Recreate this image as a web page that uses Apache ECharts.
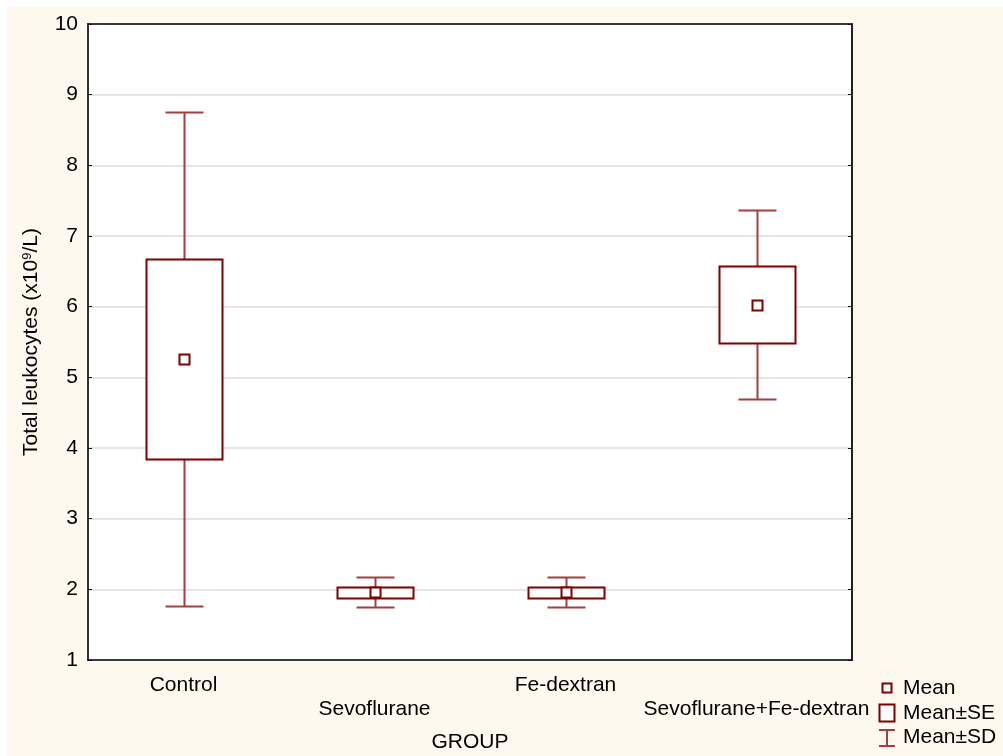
<!DOCTYPE html>
<html>
<head>
<meta charset="utf-8">
<title>Total leukocytes by group</title>
<script src="https://cdn.jsdelivr.net/npm/echarts@6/dist/echarts.min.js"></script>
<style>
  html, body { margin: 0; padding: 0; background: #ffffff; }
  #bg { position: absolute; left: 7px; top: 6px; right: 0; bottom: 0; background: #fdf9ef; }
  #chart { position: absolute; left: 0; top: 0; width: 1003px; height: 756px; }
</style>
</head>
<body>
<div id="bg"></div>
<div id="chart"></div>
<script>
// Groups and their summary statistics (x10^9/L)
const groups = ['Control', 'Sevoflurane', 'Fe-dextran', 'Sevoflurane+Fe-dextran'];
const means = [5.26, 1.96, 1.96, 6.03];
const stdErrors = [1.42, 0.08, 0.08, 0.54];
const stdDevs = [3.50, 0.21, 0.21, 1.34];
const yTicks = [1, 2, 3, 4, 5, 6, 7, 8, 9, 10];

const BOX = '#800000';
const WHISK = '#a04040';
const FONT = '"Liberation Sans", Arial, sans-serif';
const FS = 21;

const rows = groups.map((g, i) => [i, means[i], stdErrors[i], stdDevs[i]]);

function renderMeanBox(params, api) {
  const idx = api.value(0);
  const m = api.value(1), se = api.value(2), sd = api.value(3);
  const band = api.size([1, 0])[0];
  const cx = Math.round(api.coord([idx, m])[0]) + 0.5;
  const y = v => Math.round(api.coord([idx, v])[1]) + 0.5;
  const yM = y(m), ySeHi = y(m + se), ySeLo = y(m - se), ySdHi = y(m + sd), ySdLo = y(m - sd);
  const boxW = Math.round(band * 0.4);
  const capW = Math.round(band * 0.2);
  const sq = 10;
  return {
    type: 'group',
    children: [
      { type: 'line', shape: { x1: cx, y1: ySdHi, x2: cx, y2: ySdLo }, style: { stroke: WHISK, lineWidth: 2 } },
      { type: 'line', shape: { x1: cx - capW / 2, y1: ySdHi, x2: cx + capW / 2, y2: ySdHi }, style: { stroke: WHISK, lineWidth: 2 } },
      { type: 'line', shape: { x1: cx - capW / 2, y1: ySdLo, x2: cx + capW / 2, y2: ySdLo }, style: { stroke: WHISK, lineWidth: 2 } },
      { type: 'rect', shape: { x: cx - boxW / 2, y: ySeHi, width: boxW, height: ySeLo - ySeHi }, style: { fill: '#ffffff', stroke: BOX, lineWidth: 2 } },
      { type: 'rect', shape: { x: cx - sq / 2, y: yM - sq / 2, width: sq, height: sq }, style: { fill: '#ffffff', stroke: BOX, lineWidth: 2 } }
    ]
  };
}

const chart = echarts.init(document.getElementById('chart'), null, { renderer: 'canvas' });

const labelStyle = { color: '#000', fontFamily: FONT, fontSize: FS };

chart.setOption({
  animation: false,
  textStyle: { fontFamily: FONT },
  grid: {
    left: 88, top: 24, right: 151, bottom: 96,
    outerBoundsMode: 'none', containLabel: false,
    show: true, backgroundColor: '#ffffff', borderColor: '#111', borderWidth: 1.5
  },
  xAxis: [
    {
      type: 'category', data: groups, position: 'bottom', boundaryGap: true,
      name: 'GROUP', nameLocation: 'middle', nameGap: 72,
      nameTextStyle: labelStyle,
      axisLine: { lineStyle: { color: '#111', width: 1.5 } },
      axisTick: { inside: true, alignWithLabel: true, length: 4, lineStyle: { color: '#111' } },
      axisLabel: Object.assign({}, labelStyle, {
        margin: 13, lineHeight: 24, interval: 0,
        formatter: (v, i) => (i % 2 ? '\n' + v : v)
      })
    },
    {
      type: 'category', data: groups, position: 'top', boundaryGap: true,
      axisLine: { lineStyle: { color: '#111', width: 1.5 } },
      axisTick: { inside: true, alignWithLabel: true, length: 4, lineStyle: { color: '#111' } },
      axisLabel: { show: false }
    }
  ],
  yAxis: [
    {
      type: 'value', min: 1, max: 10, interval: 1, position: 'left',
      name: '{t|Total leukocytes (x10}{s|9}{t|/L)}', nameLocation: 'middle', nameGap: 46,
      nameTextStyle: {
        rich: {
          t: { fontFamily: FONT, fontSize: FS, color: '#000' },
          s: { fontFamily: FONT, fontSize: 13, color: '#000', verticalAlign: 'top', padding: [0, 0, 8, 0] }
        }
      },
      axisLine: { show: true, lineStyle: { color: '#333', width: 2 } },
      axisTick: { show: true, inside: true, length: 4, lineStyle: { color: '#111' } },
      axisLabel: Object.assign({}, labelStyle, { margin: 10, formatter: v => (yTicks.includes(v) ? String(v) : '') }),
      splitLine: { show: true, lineStyle: { color: '#dcdcdc', width: 1.5 } }
    },
    {
      type: 'value', min: 1, max: 10, interval: 1, position: 'right',
      axisLine: { show: true, lineStyle: { color: '#111', width: 1.5 } },
      axisTick: { show: true, inside: true, length: 4, lineStyle: { color: '#111' } },
      axisLabel: { show: false },
      splitLine: { show: false }
    }
  ],
  series: [{
    type: 'custom',
    name: 'Mean',
    xAxisIndex: 0, yAxisIndex: 0,
    data: rows,
    encode: { x: 0, y: 1 },
    renderItem: renderMeanBox,
    z: 5
  }],
  graphic: [
    // key: mean marker, mean±SE box, mean±SD whisker
    { type: 'rect', shape: { x: 882.5, y: 683.5, width: 9, height: 9 }, style: { fill: '#fff', stroke: BOX, lineWidth: 2 } },
    { type: 'rect', shape: { x: 879.5, y: 704.5, width: 15, height: 17 }, style: { fill: '#fff', stroke: BOX, lineWidth: 2 } },
    { type: 'line', shape: { x1: 887, y1: 730, x2: 887, y2: 746 }, style: { stroke: WHISK, lineWidth: 2 } },
    { type: 'line', shape: { x1: 879, y1: 730, x2: 895, y2: 730 }, style: { stroke: WHISK, lineWidth: 2 } },
    { type: 'line', shape: { x1: 879, y1: 746, x2: 895, y2: 746 }, style: { stroke: WHISK, lineWidth: 2 } },
    { type: 'text', x: 903, y: 688, style: { text: 'Mean', fill: '#000', font: FS + 'px ' + FONT, verticalAlign: 'middle' } },
    { type: 'text', x: 903, y: 713, style: { text: 'Mean±SE', fill: '#000', font: FS + 'px ' + FONT, verticalAlign: 'middle' } },
    { type: 'text', x: 903, y: 737, style: { text: 'Mean±SD', fill: '#000', font: FS + 'px ' + FONT, verticalAlign: 'middle' } }
  ]
});
</script>
</body>
</html>
